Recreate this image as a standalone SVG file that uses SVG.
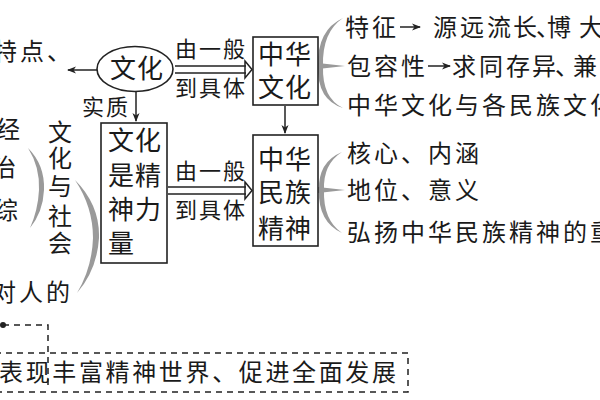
<svg xmlns="http://www.w3.org/2000/svg" width="600" height="400" viewBox="0 0 600 400">
<defs>
<style>
text{font-family:"Noto Sans CJK SC","Noto Sans CJK JP",sans-serif;fill:#1a1a1a;}
.t{font-size:24px;letter-spacing:3px;}
.v{font-size:24px;}
.b{font-size:26px;letter-spacing:1px;}
.s{font-size:22px;letter-spacing:2px;}
.box{fill:#fff;stroke:#222;stroke-width:1.6;}
.ln{stroke:#222;stroke-width:1.5;fill:none;}
.brace{fill:#9a9a9a;}
.dash{stroke:#222;stroke-width:1.5;fill:none;stroke-dasharray:6 5;}
</style>
<marker id="ah" markerWidth="10" markerHeight="10" refX="8" refY="5" orient="auto" markerUnits="userSpaceOnUse">
<path d="M0,1.5 L9,5 L0,8.5 L2.5,5 Z" fill="#222"/>
</marker>
</defs>
<rect width="600" height="400" fill="#fff"/>

<g id="connectors">
<line class="ln" x1="97" y1="70" x2="68" y2="70" marker-end="url(#ah)"/>
<line class="ln" x1="136" y1="92" x2="136" y2="121" marker-end="url(#ah)"/>
<line class="ln" x1="285" y1="106" x2="285" y2="133" marker-end="url(#ah)"/>
<path class="ln" d="M175,66 H246 M175,73 H246 M245,61 L252,69.5 L245,78 Z" fill="#fff"/>
<path class="ln" d="M168,187 H246 M168,194 H246 M245,182 L252,190.5 L245,199 Z" fill="#fff"/>
<line class="ln" x1="400" y1="27" x2="420" y2="27" marker-end="url(#ah)"/>
<line class="ln" x1="428" y1="66" x2="450" y2="66" marker-end="url(#ah)"/>
<circle cx="3" cy="325" r="3" fill="#222"/>
<path class="dash" d="M3,325 H48 V388"/>
<rect class="dash" x="-5" y="353" width="413" height="39"/>
</g>

<g id="braces">
<path class="brace" d="M343,18 Q317,30 318,66 Q317,100 343,108 Q322,98 323,66 Q322,32 343,18 Z"/>
<path class="brace" d="M318,63 L345,66 L318,69 Z"/>
<path class="brace" d="M342,152 Q318,162 319,190 Q318,222 342,233 Q323,220 324,190 Q323,164 342,152 Z"/>
<path class="brace" d="M318,187 L345,190 L318,193 Z"/>
<path class="brace" d="M28,148 Q45,165 44,190 Q43,212 30,228 Q38,210 39,190 Q40,167 28,148 Z"/>
<path class="brace" d="M75,180 Q100,205 99,238 Q97,270 77,293 Q92,268 93,238 Q93,207 75,180 Z"/>
</g>

<g id="node-wenhua">
<ellipse cx="135" cy="69" rx="38" ry="22.5" fill="#fff" stroke="#222" stroke-width="1.6"/>
<text class="b" x="110" y="78">文化</text>
</g>

<g id="node-tedian">
<text class="t" x="-7" y="60">特点、</text>
</g>

<g id="node-shizhi">
<text class="s" x="82" y="115">实质</text>
</g>

<g id="node-label1">
<text class="s" x="175" y="57">由一般</text>
<text class="s" x="175" y="96">到具体</text>
</g>
<g id="node-label2">
<text class="s" x="175" y="179">由一般</text>
<text class="s" x="175" y="218">到具体</text>
</g>

<g id="node-zhonghuawenhua">
<rect class="box" x="253" y="37" width="65" height="68"/>
<text class="b" x="258" y="64">中华</text>
<text class="b" x="258" y="97">文化</text>
</g>

<g id="node-minzujingshen">
<rect class="box" x="253" y="135" width="65" height="111"/>
<text class="b" x="258" y="169">中华</text>
<text class="b" x="258" y="202">民族</text>
<text class="b" x="258" y="238">精神</text>
</g>

<g id="node-jingshenliliang">
<rect class="box" x="101" y="123" width="66" height="140"/>
<text class="b" x="108" y="150">文化</text>
<text class="b" x="108" y="185">是精</text>
<text class="b" x="108" y="219">神力</text>
<text class="b" x="108" y="253">量</text>
</g>

<g id="node-right1">
<text class="t" x="345" y="36">特征</text>
<text class="v" x="433 460 487 513 536 547 579" y="36">源远流长、博大</text>
<text class="t" x="347" y="75">包容性</text>
<text class="v" x="452 479 506 532 555 573" y="75">求同存异、兼</text>
<text class="t" x="347" y="114">中华文化与各民族文化</text>
</g>

<g id="node-right2">
<text class="t" x="347" y="162">核心、内涵</text>
<text class="t" x="347" y="199">地位、意义</text>
<text class="t" x="347" y="241">弘扬中华民族精神的重</text>
</g>

<g id="node-left">
<text class="t" x="-4" y="138">经</text>
<text class="t" x="-8" y="176">治</text>
<text class="t" x="-6" y="219">综</text>
<text class="t" x="-8" y="301">对人的</text>
</g>

<g id="node-wenhuayushehui">
<text class="v" x="48" y="141">文</text>
<text class="v" x="48" y="167">化</text>
<text class="v" x="48" y="195">与</text>
<text class="v" x="48" y="225">社</text>
<text class="v" x="48" y="252">会</text>
</g>

<g id="node-bottom">
<text class="t" x="-1" y="381" textLength="400" lengthAdjust="spacing">表现丰富精神世界、促进全面发展</text>
</g>
</svg>
